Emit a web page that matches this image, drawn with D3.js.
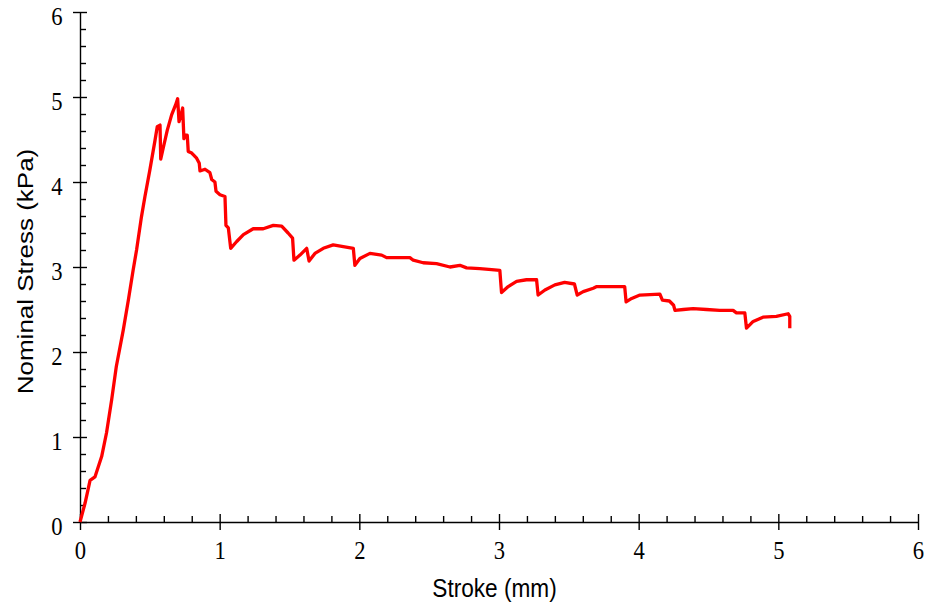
<!DOCTYPE html>
<html lang="en">
  <head>
    <meta charset="UTF-8" />
    <title>Nominal Stress vs Stroke</title>
    <script src="https://cdn.jsdelivr.net/npm/d3@7/dist/d3.min.js"></script>
    <style>
      body {
        margin: 0;
        background: #fff;
      }
      .tick text {
        font-family: "Liberation Serif", "Times New Roman", serif;
        font-size: 26px;
        fill: #000;
      }
      .axis path,
      .axis line {
        stroke: #000;
        stroke-width: 1.4px;
      }
      .title {
        font-family: "Liberation Sans", Arial, sans-serif;
        font-size: 26px;
        fill: #000;
      }
      .curve {
        fill: none;
        stroke: #ff0000;
        stroke-width: 3.3px;
        stroke-linejoin: round;
      }
    </style>
  </head>
  <body>
    <svg width="927" height="606"></svg>
    <script>
      // stroke (mm)
      const strokeMm = [
        0, 0.036, 0.072, 0.107, 0.155, 0.19, 0.227, 0.26, 0.31, 0.346, 0.38,
        0.405, 0.44, 0.465, 0.5, 0.537, 0.553, 0.573, 0.578, 0.596, 0.625,
        0.656, 0.685, 0.699, 0.709, 0.72, 0.735, 0.744, 0.756, 0.768, 0.775,
        0.8, 0.835, 0.854, 0.859, 0.895, 0.93, 0.943, 0.966, 0.974, 1.002,
        1.038, 1.045, 1.062, 1.079, 1.122, 1.17, 1.24, 1.312, 1.384, 1.444,
        1.49, 1.522, 1.532, 1.575, 1.623, 1.64, 1.682, 1.742, 1.813, 1.885,
        1.957, 1.968, 2.004, 2.076, 2.16, 2.195, 2.29, 2.362, 2.386, 2.457,
        2.553, 2.649, 2.72, 2.768, 2.863, 2.947, 3.006, 3.018, 3.066, 3.126,
        3.197, 3.269, 3.28, 3.329, 3.4, 3.47, 3.54, 3.56, 3.603, 3.675, 3.7,
        3.9, 3.91, 3.95, 4.009, 4.152, 4.17, 4.22, 4.25, 4.26, 4.32, 4.39,
        4.486, 4.58, 4.676, 4.7, 4.76, 4.772, 4.82, 4.89, 4.986, 5.07, 5.082,
        5.082,
      ];
      // nominal stress (kPa)
      const stressKPa = [
        0, 0.22, 0.49, 0.53, 0.77, 1.05, 1.44, 1.83, 2.26, 2.61, 2.96, 3.2,
        3.59, 3.83, 4.14, 4.49, 4.65, 4.67, 4.27, 4.4, 4.61, 4.79, 4.91, 4.98,
        4.71, 4.77, 4.87, 4.51, 4.55, 4.55, 4.36, 4.34, 4.28, 4.22, 4.13, 4.15,
        4.11, 4.03, 4.0, 3.89, 3.85, 3.83, 3.49, 3.46, 3.22, 3.3, 3.38, 3.45,
        3.45, 3.49, 3.48, 3.4, 3.34, 3.08, 3.14, 3.22, 3.07, 3.16, 3.22, 3.26,
        3.24, 3.22, 3.02, 3.1, 3.16, 3.14, 3.11, 3.11, 3.11, 3.08, 3.05, 3.04,
        3.0, 3.02, 2.99, 2.98, 2.97, 2.96, 2.7, 2.77, 2.83, 2.85, 2.85, 2.67,
        2.73, 2.79, 2.82, 2.8, 2.67, 2.71, 2.75, 2.77, 2.77, 2.59, 2.63, 2.67,
        2.68, 2.61, 2.6, 2.55, 2.49, 2.5, 2.51, 2.5, 2.49, 2.49, 2.46, 2.46,
        2.28, 2.36, 2.41, 2.42, 2.45, 2.42, 2.28,
      ];

      const majorTicks = [0, 1, 2, 3, 4, 5, 6];
      const minorTicks = d3
        .range(0, 30)
        .map((i) => i * 0.2)
        .filter((v) => Math.abs(v - Math.round(v)) > 1e-6);

      const svg = d3.select("svg");
      const squeeze = 0.87; // text in the picture is a bit narrow

      const x = d3.scaleLinear().domain([0, 6]).range([80, 918]);
      const y = d3.scaleLinear().domain([0, 6]).range([522, 12]);

      // minor ticks point inward
      svg
        .append("g")
        .attr("class", "axis")
        .attr("transform", `translate(0,${y(0)})`)
        .call(d3.axisBottom(x).tickValues(minorTicks).tickSize(-6).tickFormat(""))
        .call((g) => g.select(".domain").remove());

      svg
        .append("g")
        .attr("class", "axis")
        .attr("transform", `translate(${x(0)},0)`)
        .call(d3.axisLeft(y).tickValues(minorTicks).tickSize(-6).tickFormat(""))
        .call((g) => g.select(".domain").remove());

      // major ticks cross the axis
      const xAxis = svg
        .append("g")
        .attr("class", "axis")
        .attr("transform", `translate(0,${y(0)})`)
        .call(d3.axisBottom(x).tickValues(majorTicks).tickSizeOuter(0).tickFormat(d3.format("d")));
      xAxis.selectAll(".tick line").attr("y1", -8).attr("y2", 8);
      xAxis
        .selectAll(".tick text")
        .attr("y", 37)
        .attr("dy", 0)
        .attr("transform", `scale(${squeeze},1)`);

      const yAxis = svg
        .append("g")
        .attr("class", "axis")
        .attr("transform", `translate(${x(0)},0)`)
        .call(d3.axisLeft(y).tickValues(majorTicks).tickSizeOuter(0).tickFormat(d3.format("d")));
      yAxis.selectAll(".tick line").attr("x1", -7).attr("x2", 7);
      yAxis
        .selectAll(".tick text")
        .attr("x", -17.5 / squeeze)
        .attr("dy", "0.48em")
        .attr("transform", `scale(${squeeze},1)`);

      const line = d3
        .line()
        .x((d) => x(d[0]))
        .y((d) => y(d[1]));

      svg
        .append("path")
        .datum(d3.zip(strokeMm, stressKPa))
        .attr("class", "curve")
        .attr("d", line);

      svg
        .append("text")
        .attr("class", "title")
        .attr("text-anchor", "middle")
        .attr("transform", `translate(494.5,596.5) scale(${squeeze},1)`)
        .text("Stroke (mm)");

      svg
        .append("text")
        .attr("class", "title")
        .attr("text-anchor", "middle")
        .attr("transform", `translate(32.5,271.5) scale(${squeeze},1) rotate(-90)`)
        .text("Nominal Stress (kPa)");
    </script>
  </body>
</html>
